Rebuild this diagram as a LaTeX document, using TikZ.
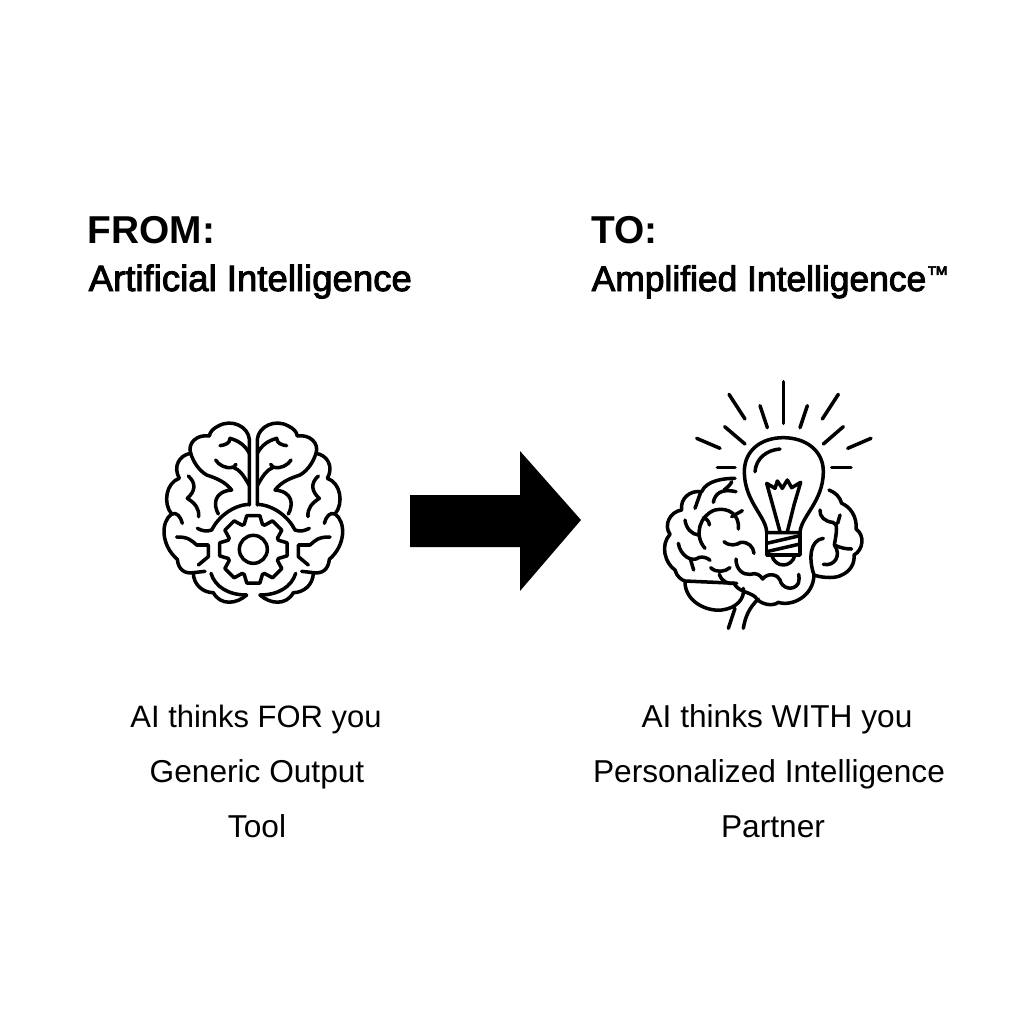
\documentclass[tikz,border=0pt]{standalone}
\usepackage{fontspec}
\setmainfont{Liberation Sans}
\newfontfamily\medfont[FakeBold=2.6]{Liberation Sans}
\definecolor{ink}{RGB}{0,0,0}
\tikzset{
  px/.style={x=0.01cm,y=-0.01cm},
  zoomed/.style={x=0.01cm/3,y=-0.01cm/3},
  lineart/.style={draw=ink,line width=1pt,line cap=round,line join=round},
  headtext/.style={text=ink,font=\fontsize{11.05pt}{13pt}\bfseries,inner sep=0pt,anchor=base west},
  subtext/.style={text=ink,font=\fontsize{10.4pt}{12pt}\medfont,inner sep=0pt,anchor=base west},
  bodytext/.style={text=ink,font=\fontsize{9pt}{11pt}\selectfont,inner sep=0pt,anchor=base}
}
\begin{document}
\begin{tikzpicture}[px]
\useasboundingbox (0,0) rectangle (1024,1024);
\fill[white] (0,0) rectangle (1024,1024);

\node[headtext] (fromhead) at (87,243) {FROM:};
\node[subtext] (fromsub) at (88,291) {Artificial Intelligence};
\node[headtext] (tohead) at (591,243) {TO:};
\node[subtext,font=\fontsize{10.07pt}{12pt}\medfont] (tosub) at (591,291) {Amplified Intelligence\raisebox{2.6pt}{\fontsize{6.4pt}{7pt}\selectfont ™}};
\node[bodytext,font=\fontsize{8.8pt}{11pt}\selectfont] (l1) at (256,727) {AI thinks FOR you};
\node[bodytext] (l2) at (257,782) {Generic Output};
\node[bodytext] (l3) at (257,837) {Tool};
\node[bodytext] (r1) at (777,727) {AI thinks WITH you};
\node[bodytext] (r2) at (769,782) {Personalized Intelligence};
\node[bodytext] (r3) at (773,837) {Partner};

% arrow
\fill[ink] (410,495) -- (520,495) -- (520,451) -- (581,520) -- (520,591) -- (520,547) -- (410,547) -- cycle;

% left brain
\begin{scope}[shift={(150,410)},zoomed]
\foreach \sx/\off in {1/0,-1/620}{
\begin{scope}[xshift=\off*0.01cm/3,xscale=\sx]
\draw[lineart]
 (298,285) -- (298,88) .. controls (295,50) and (245,25) .. (205,48)
 .. controls (190,55) and (180,65) .. (178,78)
 .. controls (140,72) and (112,100) .. (122,130)
 .. controls (88,135) and (68,170) .. (88,205)
 .. controls (48,218) and (38,280) .. (65,312)
 .. controls (32,335) and (32,405) .. (82,448)
 .. controls (85,480) and (105,492) .. (130,488)
 .. controls (130,525) and (160,548) .. (190,548)
 .. controls (212,588) and (260,582) .. (290,555);
\draw[lineart] (298,283) .. controls (250,285) and (205,320) .. (185,360) .. controls (170,366) and (155,362) .. (142,355);
\draw[lineart] (205,312) .. controls (190,285) and (190,245) .. (245,240) .. controls (225,215) and (200,205) .. (170,195) .. controls (145,180) and (130,155) .. (122,130);
\draw[lineart] (297,225) .. controls (280,195) and (270,180) .. (250,172) .. controls (230,178) and (205,165) .. (197,150);
\draw[lineart] (250,172) -- (258,163);
\draw[lineart] (298,130) .. controls (285,105) and (265,92) .. (240,85) .. controls (240,100) and (225,105) .. (210,107);
\draw[lineart] (115,198) .. controls (140,220) and (135,245) .. (112,265) .. controls (135,280) and (148,295) .. (146,320);
\draw[lineart] (65,312) .. controls (80,305) and (92,320) .. (97,340);
\draw[lineart] (80,381) .. controls (115,380) and (125,392) .. (140,405) -- (175,405) -- (175,440) -- (145,465);
\draw[lineart] (130,488) -- (165,484);
\draw[lineart] (183,490) .. controls (195,530) and (235,555) .. (290,555);
\end{scope}}
\begin{scope}[shift={(310,418)}]
\draw[lineart] (-20:80) foreach \a in {0,45,...,315}{ -- (\a-20:80) -- (\a-11:103) -- (\a+11:103) -- (\a+20:80) } -- cycle;
\draw[lineart] (0,0) circle (42);
\end{scope}
\end{scope}

% right icon
\begin{scope}[shift={(650,375)},zoomed]
\foreach \xa/\ya/\xb/\yb in {400/20/400/145,330/92/352/158,472/92/450/158,237/58/285/132,565/58/517/132,224/155/285/207,580/155/520/207,140/190/210/220,663/190/593/220,202/277/255/277,545/277/603/277}
  \draw[lineart] (\xa,\ya) -- (\xb,\yb);
% bulb
\draw[lineart] (350,473) .. controls (350,425) and (283,380) .. (283,290)
  .. controls (283,225) and (335,188) .. (400,188)
  .. controls (465,188) and (520,225) .. (520,290)
  .. controls (520,380) and (452,425) .. (450,473) -- cycle;
\draw[lineart] (315,290) .. controls (318,250) and (350,225) .. (390,222);
\draw[lineart] (390,470) -- (368,390) -- (350,325) -- (375,340) -- (382,318) -- (397,340) -- (412,315) -- (425,338) -- (452,322) -- (432,390) -- (412,470);
\draw[lineart] (350,473) -- (350,540) -- (450,540) -- (450,473);
\draw[lineart] (350,505) -- (450,482);
\draw[lineart] (350,530) -- (450,507);
\draw[lineart] (365,540) .. controls (375,580) and (425,580) .. (435,540);
% brain
\draw[lineart] (255,310) .. controls (225,310) and (170,315) .. (155,350)
  .. controls (120,345) and (90,370) .. (95,405)
  .. controls (60,410) and (40,450) .. (60,478)
  .. controls (30,510) and (45,565) .. (75,585)
  .. controls (80,605) and (95,615) .. (105,618) -- (260,625);
\draw[lineart] (105,620) .. controls (105,680) and (170,710) .. (215,705) .. controls (260,700) and (285,670) .. (280,640);
\draw[lineart] (255,700) -- (235,760);
\draw[lineart] (325,672) .. controls (295,700) and (285,730) .. (280,760);
\draw[lineart] (208,598) .. controls (215,620) and (235,628) .. (252,625)
  .. controls (265,650) and (295,650) .. (315,665)
  .. controls (330,690) and (370,695) .. (385,682)
  .. controls (425,695) and (490,665) .. (492,600)
  .. controls (520,610) and (560,610) .. (575,600)
  .. controls (600,590) and (615,565) .. (612,540)
  .. controls (640,525) and (645,480) .. (618,462)
  .. controls (622,425) and (600,395) .. (575,385)
  .. controls (570,365) and (555,352) .. (537,345);
\draw[lineart] (510,405) .. controls (508,425) and (525,440) .. (548,442) .. controls (565,445) and (560,470) .. (553,510) .. controls (575,520) and (590,522) .. (605,522);
\draw[lineart] (570,420) -- (563,445);
\draw[lineart] (520,568) .. controls (555,575) and (575,540) .. (553,510);
\draw[lineart] (520,490) .. controls (480,495) and (475,550) .. (492,600);
\draw[lineart] (258,552) .. controls (258,585) and (280,600) .. (300,598)
  .. controls (320,592) and (330,600) .. (338,612)
  .. controls (355,590) and (385,600) .. (390,615)
  .. controls (395,640) and (430,650) .. (445,625) .. controls (448,615) and (448,605) .. (446,598);
\draw[lineart] (222,500) .. controls (240,515) and (260,510) .. (272,502) .. controls (295,500) and (310,515) .. (312,535);
\draw[lineart] (182,578) .. controls (200,595) and (225,590) .. (240,578);
\draw[lineart] (85,505) .. controls (90,540) and (125,565) .. (148,547) .. controls (160,545) and (172,548) .. (180,556);
\draw[lineart] (122,555) -- (131,585);
\draw[lineart] (105,435) .. controls (108,460) and (125,478) .. (145,480);
\draw[lineart] (165,520) .. controls (130,480) and (150,420) .. (195,405) .. controls (235,395) and (270,420) .. (265,462);
\draw[lineart] (160,428) .. controls (170,430) and (178,440) .. (178,450);
\draw[lineart] (277,407) -- (245,425);
\draw[lineart] (190,382) .. controls (195,355) and (215,340) .. (258,350);
\draw[lineart] (222,345) .. controls (235,335) and (242,328) .. (245,320);
\draw[lineart] (152,352) -- (135,400);
\end{scope}
\end{tikzpicture}
\end{document}
